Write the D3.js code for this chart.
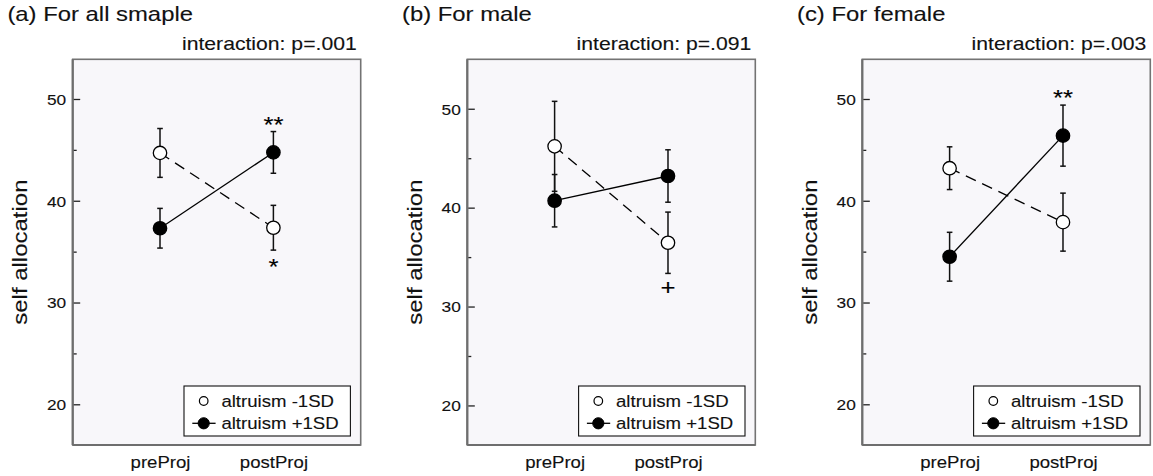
<!DOCTYPE html>
<html>
<head>
<meta charset="utf-8">
<script src="https://cdn.jsdelivr.net/npm/d3@7"></script>
<style>
  html, body { margin: 0; padding: 0; background: #ffffff; }
  svg { display: block; font-family: "Liberation Sans", Arial, Helvetica, sans-serif; }
  svg text { stroke: #111; stroke-width: 0.12px; paint-order: stroke; }
</style>
</head>
<body>
<svg id="chart" width="1153" height="476"></svg>
<script>
// ---------------- data ----------------
const panelTitles = ["(a) For all smaple", "(b) For male", "(c) For female"];
const interactionLabels = ["interaction: p=.001", "interaction: p=.091", "interaction: p=.003"];
const categories = ["preProj", "postProj"];
const seriesNames = ["altruism -1SD", "altruism +1SD"];

const allLowMean = [44.7, 37.35];
const allLowSE = [2.4, 2.2];
const allHighMean = [37.3, 44.75];
const allHighSE = [1.95, 2.05];

const maleLowMean = [46.2, 36.45];
const maleLowSE = [4.55, 3.1];
const maleHighMean = [40.7, 43.2];
const maleHighSE = [2.65, 2.65];

const femaleLowMean = [43.2, 37.9];
const femaleLowSE = [2.1, 2.85];
const femaleHighMean = [34.5, 46.4];
const femaleHighSE = [2.4, 3.0];

const yTicks = [20, 30, 40, 50];
const yMinorTicks = [25, 35, 45];
const yDomains = [[16, 53.9], [16, 55], [16, 53.9]];

// significance marks: [series index, category index, mark, side]
const marksAll = [[1, 1, "**", "above"], [0, 1, "*", "below"]];
const marksMale = [[0, 1, "+", "below"]];
const marksFemale = [[1, 1, "**", "above"]];

const panels = [
  { low: allLowMean, lowSE: allLowSE, high: allHighMean, highSE: allHighSE, marks: marksAll },
  { low: maleLowMean, lowSE: maleLowSE, high: maleHighMean, highSE: maleHighSE, marks: marksMale },
  { low: femaleLowMean, lowSE: femaleLowSE, high: femaleHighMean, highSE: femaleHighSE, marks: marksFemale }
];

// ---------------- layout ----------------
const SX = 1.17; // horizontal glyph stretch of the original rendering
const boxLefts = [72.7, 467.3, 862.3];
const boxW = 288;
const boxTop = 59.3, boxBottom = 445;

const svg = d3.select("#chart");

function stretchedText(g, x, y, str, size, anchor, rot) {
  return g.append("text")
    .attr("transform", `translate(${x},${y})` + (rot ? ` rotate(${rot})` : "") + ` scale(${SX},1)`)
    .attr("font-size", size)
    .attr("text-anchor", anchor || "start")
    .attr("fill", "#111")
    .text(str);
}

panels.forEach((p, i) => {
  const L = boxLefts[i], R = L + boxW;
  const g = svg.append("g");

  const x = d3.scalePoint().domain(categories).range([L, R]).padding(0.77);
  const y = d3.scaleLinear().domain(yDomains[i]).range([boxBottom, boxTop]);

  // plot background & frame
  g.append("rect").attr("x", L).attr("y", boxTop).attr("width", R - L).attr("height", boxBottom - boxTop)
    .attr("fill", "#f8f7fa").attr("stroke", "#737373").attr("stroke-width", 1.6);
  g.append("line").attr("x1", L).attr("x2", L).attr("y1", boxTop).attr("y2", boxBottom)
    .attr("stroke", "#6e6e6e").attr("stroke-width", 2.2);
  g.append("line").attr("x1", L).attr("x2", R).attr("y1", boxBottom).attr("y2", boxBottom)
    .attr("stroke", "#6e6e6e").attr("stroke-width", 2.2);

  // y axis (inward ticks)
  const yAxis = g.append("g").attr("transform", `translate(${L + 1},0)`)
    .call(d3.axisLeft(y).tickValues(yTicks).tickSizeInner(-6.5).tickSizeOuter(0).tickFormat(d3.format("d")));
  yAxis.select(".domain").remove();
  yAxis.selectAll(".tick line").attr("stroke", "#222").attr("stroke-width", 1.3);
  yAxis.selectAll(".tick text")
    .attr("x", null).attr("dy", null)
    .attr("transform", `translate(-7.5,5.3) scale(${SX},1)`)
    .attr("font-size", 14.8).attr("font-family", null).attr("fill", "#111")
    .attr("text-anchor", "end");

  const yMinor = g.append("g").attr("transform", `translate(${L + 1},0)`)
    .call(d3.axisLeft(y).tickValues(yMinorTicks).tickSizeInner(-3).tickSizeOuter(0).tickFormat(""));
  yMinor.select(".domain").remove();
  yMinor.selectAll(".tick line").attr("stroke", "#222").attr("stroke-width", 1.3);

  // x axis labels
  const xAxis = g.append("g").attr("transform", `translate(0,${boxBottom})`)
    .call(d3.axisBottom(x).tickSize(0).tickPadding(0));
  xAxis.select(".domain").remove();
  xAxis.selectAll(".tick text")
    .attr("y", null).attr("dy", null)
    .attr("transform", `translate(0,22.5) scale(${SX},1)`)
    .attr("font-size", 15.9).attr("font-family", null).attr("fill", "#111");

  // titles
  stretchedText(g, L - 65.3, 20.5, panelTitles[i], 20.4, "start");
  stretchedText(g, R - 4, 49.5, interactionLabels[i], 18.1, "end");
  stretchedText(g, L - 45.3, (boxTop + boxBottom) / 2, "self allocation", 20.5, "middle", -90);

  // series
  const series = [
    { mean: p.low, se: p.lowSE, fill: "#ffffff", dash: "11,7" },
    { mean: p.high, se: p.highSE, fill: "#000000", dash: null }
  ];
  const line = d3.line().x(d => x(d.c)).y(d => y(d.v));

  series.forEach(s => {
    const pts = categories.map((c, k) => ({ c, v: s.mean[k], e: s.se[k] }));
    g.append("path").datum(pts).attr("d", line)
      .attr("fill", "none").attr("stroke", "#000").attr("stroke-width", 1.3)
      .attr("stroke-dasharray", s.dash);
  });
  series.forEach(s => {
    const pts = categories.map((c, k) => ({ c, v: s.mean[k], e: s.se[k] }));
    const eb = g.append("g");
    pts.forEach(d => {
      const cx = x(d.c), y1 = y(d.v + d.e), y2 = y(d.v - d.e);
      eb.append("line").attr("x1", cx).attr("x2", cx).attr("y1", y1).attr("y2", y2)
        .attr("stroke", "#111").attr("stroke-width", 1.5);
      [y1, y2].forEach(yy => eb.append("line").attr("x1", cx - 2.8).attr("x2", cx + 2.8)
        .attr("y1", yy).attr("y2", yy).attr("stroke", "#111").attr("stroke-width", 1.5));
    });
  });
  series.forEach(s => {
    const pts = categories.map((c, k) => ({ c, v: s.mean[k] }));
    g.selectAll(null).data(pts).enter().append("circle")
      .attr("cx", d => x(d.c)).attr("cy", d => y(d.v)).attr("r", 6.7)
      .attr("fill", s.fill).attr("stroke", "#000").attr("stroke-width", 1.3);
  });

  // significance marks
  const centerEm = { "*": 0.58, "**": 0.58, "+": 0.35 };
  p.marks.forEach(([si, ci, mark, side]) => {
    const s = series[si];
    const m = s.mean[ci], e = s.se[ci];
    const size = 22;
    const cy = side === "above" ? y(m + e) - 12.5 : y(m - e) + (mark === "+" ? 14 : 11);
    stretchedText(g, x(categories[ci]), cy + centerEm[mark] * size, mark, size, "middle")
      .attr("fill", "#000");
  });

  // legend
  const lx = R - 176.7, ly = 386;
  const lg = g.append("g");
  lg.append("rect").attr("x", lx).attr("y", ly).attr("width", 166.4).attr("height", 50)
    .attr("fill", "#ffffff").attr("stroke", "#111").attr("stroke-width", 1.1);
  const rows = [ly + 15, ly + 37.3];
  lg.append("line").attr("x1", lx + 8.3).attr("x2", lx + 31.6).attr("y1", rows[1]).attr("y2", rows[1])
    .attr("stroke", "#000").attr("stroke-width", 1.3);
  lg.append("circle").attr("cx", lx + 19.7).attr("cy", rows[0]).attr("r", 4.3)
    .attr("fill", "#fff").attr("stroke", "#000").attr("stroke-width", 1.2);
  lg.append("circle").attr("cx", lx + 19.7).attr("cy", rows[1]).attr("r", 5.6)
    .attr("fill", "#000").attr("stroke", "#000").attr("stroke-width", 1);
  seriesNames.forEach((n, k) => stretchedText(lg, lx + 37.4, rows[k] + 5.7, n, 15.9, "start"));
});
</script>
</body>
</html>
